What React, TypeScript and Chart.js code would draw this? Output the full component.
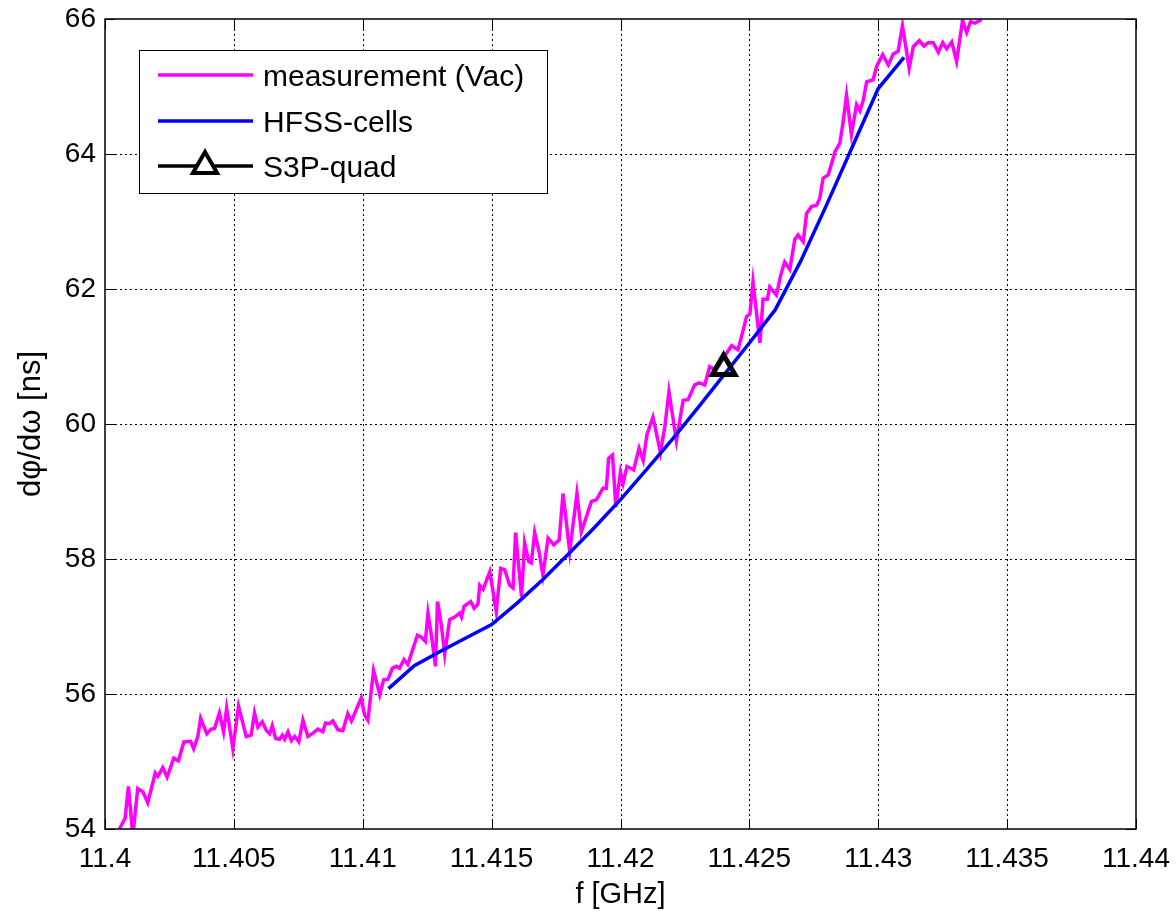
import React, { useEffect, useRef } from "react";
import { Chart, registerables } from "chart.js";

Chart.register(...registerables);

const measFreq = [
  11.40056, 11.40078, 11.40091, 11.40108, 11.40127, 11.40147, 11.40166, 11.40195, 11.40205, 11.40224,
  11.40241, 11.40267, 11.40285, 11.40306, 11.40332, 11.40344, 11.4036, 11.40371, 11.40395, 11.40412,
  11.40425, 11.40444, 11.4046, 11.40472, 11.40496, 11.40518, 11.40548, 11.40567, 11.4058, 11.40593,
  11.4061, 11.40626, 11.40639, 11.40649, 11.40662, 11.40677, 11.40688, 11.40697, 11.4071, 11.40723,
  11.40736, 11.40752, 11.40768, 11.40787, 11.40807, 11.40826, 11.40845, 11.40856, 11.40871, 11.40884,
  11.40904, 11.40923, 11.40942, 11.40956, 11.40972, 11.40994, 11.41007, 11.4102, 11.41042, 11.41066,
  11.41081, 11.41098, 11.41115, 11.4113, 11.41143, 11.4116, 11.41175, 11.41212, 11.41227, 11.41243,
  11.41253, 11.41269, 11.41282, 11.4129, 11.41305, 11.41318, 11.41337, 11.41357, 11.41376, 11.41383,
  11.41393, 11.41419, 11.41432, 11.41447, 11.41454, 11.41467, 11.41493, 11.41518, 11.41535, 11.41551,
  11.4157, 11.41583, 11.41593, 11.41616, 11.41628, 11.41644, 11.41654, 11.41667, 11.41683, 11.41699,
  11.41719, 11.41741, 11.41762, 11.41777, 11.41803, 11.41831, 11.41848, 11.41868, 11.41887, 11.41907,
  11.41932, 11.41945, 11.41954, 11.41969, 11.41982, 11.42, 11.4201, 11.42025, 11.42051, 11.42072,
  11.42088, 11.42103, 11.42126, 11.42155, 11.42172, 11.42188, 11.42217, 11.42243, 11.42262, 11.42288,
  11.42305, 11.42327, 11.42346, 11.4237, 11.42398, 11.42431, 11.42456, 11.42476, 11.42489, 11.42502,
  11.42514, 11.42541, 11.42553, 11.4257, 11.42579, 11.42605, 11.42622, 11.42637, 11.42657, 11.42676,
  11.42689, 11.42709, 11.42722, 11.42741, 11.42761, 11.42773, 11.42786, 11.42806, 11.42819, 11.42832,
  11.42851, 11.42864, 11.42877, 11.42896, 11.42916, 11.42929, 11.42942, 11.42955, 11.4298, 11.42994,
  11.43017, 11.43039, 11.43058, 11.43077, 11.43094, 11.4312, 11.43136, 11.43159, 11.43177, 11.43194,
  11.43213, 11.43233, 11.4325, 11.43265, 11.43285, 11.43304, 11.43327, 11.43343, 11.43358, 11.43375,
  11.43401,
];

const measVal = [
  54.0, 54.16, 54.63, 53.9, 54.6, 54.55, 54.39, 54.83, 54.78, 54.91,
  54.77, 55.05, 55.01, 55.29, 55.3, 55.19, 55.37, 55.64, 55.41, 55.48,
  55.49, 55.72, 55.44, 55.79, 55.19, 55.82, 55.37, 55.39, 55.72, 55.51,
  55.59, 55.46, 55.41, 55.53, 55.34, 55.33, 55.39, 55.33, 55.44, 55.31,
  55.37, 55.29, 55.61, 55.37, 55.42, 55.48, 55.44, 55.57, 55.56, 55.6,
  55.47, 55.46, 55.71, 55.6, 55.74, 55.94, 55.69, 55.61, 56.35, 55.99,
  56.21, 56.22, 56.38, 56.41, 56.38, 56.51, 56.44, 56.87, 56.84, 56.78,
  57.2, 56.8, 56.41, 57.37, 57.02, 56.59, 57.1, 57.14, 57.2, 57.14,
  57.3, 57.37, 57.27, 57.33, 57.61, 57.55, 57.81, 57.22, 57.86, 57.84,
  57.61, 57.57, 58.39, 57.44, 58.24, 57.96, 57.94, 58.39, 58.13, 57.76,
  58.31, 58.21, 58.28, 58.97, 58.11, 58.97, 58.4, 58.63, 58.85, 58.88,
  59.05, 59.05, 59.49, 59.54, 58.77, 59.29, 59.12, 59.37, 59.32, 59.64,
  59.46, 59.85, 60.1, 59.58, 59.96, 60.48, 59.75, 60.35, 60.36, 60.58,
  60.61, 60.58, 60.85, 60.8, 60.97, 61.16, 61.1, 61.39, 61.59, 61.63,
  62.11, 61.2, 61.85, 61.85, 62.03, 61.91, 62.21, 62.4, 62.29, 62.73,
  62.8, 62.7, 63.12, 63.22, 63.24, 63.34, 63.64, 63.69, 63.86, 64.03,
  64.16, 64.48, 64.87, 64.29, 64.73, 64.64, 64.8, 65.07, 65.1, 65.3,
  65.47, 65.32, 65.48, 65.52, 65.9, 65.27, 65.59, 65.68, 65.6, 65.65,
  65.65, 65.51, 65.65, 65.56, 65.66, 65.37, 65.98, 65.8, 65.96, 65.94,
  65.99,
];

const hfssFreq = [
  11.411, 11.412, 11.413, 11.414, 11.415, 11.416, 11.417, 11.418, 11.419, 11.42,
  11.421, 11.422, 11.423, 11.424, 11.425, 11.426, 11.427, 11.428, 11.429, 11.43, 11.431,
];
const hfssVal = [
  56.08, 56.42, 56.63, 56.83, 57.03, 57.35, 57.7, 58.08, 58.47, 58.88,
  59.32, 59.77, 60.24, 60.72, 61.2, 61.69, 62.42, 63.25, 64.11, 64.97, 65.43,
];

const s3pFreq = [11.424];
const s3pVal = [60.83];

const xTicks = [11.4, 11.405, 11.41, 11.415, 11.42, 11.425, 11.43, 11.435, 11.44];
const yTicks = [54, 56, 58, 60, 62, 64, 66];

const seriesNames = ["measurement (Vac)", "HFSS-cells", "S3P-quad"];
const seriesColors = ["#ff00ff", "#0000ff", "#000000"];

const xTitle = "f [GHz]";
const yTitle = "d\u03c6/d\u03c9 [ns]";

const FONT = "'Liberation Sans', Arial, Helvetica, sans-serif";

const framePlugin = {
  id: "matlabFrame",
  beforeDatasetsDraw(chart: any) {
    const { ctx, chartArea: a, scales } = chart;
    const xs = scales.x;
    const ys = scales.y;
    ctx.save();
    ctx.strokeStyle = "#000";
    ctx.lineWidth = 1;
    ctx.setLineDash([2, 3]);
    xTicks.forEach((v) => {
      const px = Math.round(xs.getPixelForValue(v)) + 0.5;
      if (px > a.left + 2 && px < a.right - 2) {
        ctx.beginPath();
        ctx.moveTo(px, a.top);
        ctx.lineTo(px, a.bottom);
        ctx.stroke();
      }
    });
    yTicks.forEach((v) => {
      const py = Math.round(ys.getPixelForValue(v)) + 0.5;
      if (py > a.top + 2 && py < a.bottom - 2) {
        ctx.beginPath();
        ctx.moveTo(a.left, py);
        ctx.lineTo(a.right, py);
        ctx.stroke();
      }
    });
    ctx.restore();
  },
  afterDatasetsDraw(chart: any) {
    const { ctx, chartArea: a, scales } = chart;
    const xs = scales.x;
    const ys = scales.y;
    ctx.save();
    ctx.setLineDash([]);
    ctx.strokeStyle = "#000";
    ctx.lineWidth = 1;
    const tl = 10;
    xTicks.forEach((v) => {
      const px = Math.round(xs.getPixelForValue(v)) + 0.5;
      ctx.beginPath();
      ctx.moveTo(px, a.bottom);
      ctx.lineTo(px, a.bottom - tl);
      ctx.moveTo(px, a.top);
      ctx.lineTo(px, a.top + tl);
      ctx.stroke();
    });
    yTicks.forEach((v) => {
      const py = Math.round(ys.getPixelForValue(v)) + 0.5;
      ctx.beginPath();
      ctx.moveTo(a.left, py);
      ctx.lineTo(a.left + tl, py);
      ctx.moveTo(a.right, py);
      ctx.lineTo(a.right - tl, py);
      ctx.stroke();
    });
    ctx.lineWidth = 1.5;
    ctx.strokeRect(a.left, a.top, a.right - a.left, a.bottom - a.top);

    // legend box
    const bx = a.left + 34;
    const by = a.top + 31;
    const bw = 408;
    const bh = 143;
    ctx.fillStyle = "#fff";
    ctx.fillRect(bx, by, bw, bh);
    ctx.lineWidth = 1;
    ctx.strokeStyle = "#000";
    ctx.strokeRect(bx + 0.5, by + 0.5, bw, bh);
    const rows = [25, 71, 116];
    ctx.font = `30px ${FONT}`;
    ctx.textBaseline = "alphabetic";
    ctx.textAlign = "left";
    seriesNames.forEach((name, i) => {
      const ry = by + rows[i];
      ctx.strokeStyle = seriesColors[i];
      ctx.lineWidth = 3.5;
      ctx.beginPath();
      ctx.moveTo(bx + 19, ry);
      ctx.lineTo(bx + 114, ry);
      ctx.stroke();
      if (i === 2) {
        const cx = bx + 66;
        const r = 14;
        ctx.fillStyle = "#fff";
        ctx.lineWidth = 4;
        ctx.beginPath();
        ctx.moveTo(cx, ry - r);
        ctx.lineTo(cx + 0.866 * r, ry + 0.5 * r);
        ctx.lineTo(cx - 0.866 * r, ry + 0.5 * r);
        ctx.closePath();
        ctx.fill();
        ctx.stroke();
      }
      ctx.fillStyle = "#000";
      ctx.fillText(name, bx + 124, ry + 11);
    });
    ctx.restore();
  },
};

export default function App() {
  const canvasRef = useRef<HTMLCanvasElement | null>(null);

  useEffect(() => {
    const canvas = canvasRef.current;
    if (!canvas) return;
    const meas = measFreq.map((f, i) => ({ x: f, y: measVal[i] }));
    const hfss = hfssFreq.map((f, i) => ({ x: f, y: hfssVal[i] }));
    const s3p = s3pFreq.map((f, i) => ({ x: f, y: s3pVal[i] }));

    const zeroPad = (s: any) => {
      s.paddingTop = 0;
      s.paddingBottom = 0;
      s.paddingLeft = 0;
      s.paddingRight = 0;
    };

    const chart = new Chart(canvas, {
      type: "line",
      data: {
        datasets: [
          {
            label: seriesNames[2],
            data: s3p,
            borderColor: seriesColors[2],
            backgroundColor: "rgba(0,0,0,0)",
            borderWidth: 3,
            pointStyle: "triangle",
            pointRadius: 13,
            pointBorderWidth: 5,
            pointBorderColor: "#000",
            pointBackgroundColor: "rgba(0,0,0,0)",
            order: 1,
          },
          {
            label: seriesNames[1],
            data: hfss,
            borderColor: seriesColors[1],
            borderWidth: 3.5,
            pointRadius: 0,
            tension: 0,
            order: 2,
          },
          {
            label: seriesNames[0],
            data: meas,
            borderColor: seriesColors[0],
            borderWidth: 3.5,
            pointRadius: 0,
            tension: 0,
            order: 3,
          },
        ],
      },
      options: {
        animation: false,
        responsive: false,
        devicePixelRatio: 1,
        layout: { padding: { left: 0, top: 19, right: 40, bottom: 0 } },
        plugins: {
          legend: { display: false },
          tooltip: { enabled: false },
        },
        scales: {
          x: {
            type: "linear",
            min: 11.4,
            max: 11.44,
            grid: { display: false, drawTicks: false },
            border: { display: false },
            afterBuildTicks: (s: any) => {
              s.ticks = xTicks.map((v) => ({ value: v }));
            },
            afterFit: (s: any) => {
              s.height = 85;
              zeroPad(s);
            },
            ticks: {
              autoSkip: false,
              maxRotation: 0,
              minRotation: 0,
              padding: 13,
              color: "#000",
              font: { family: FONT, size: 28 },
              callback: (v: any) => String(Number(Number(v).toFixed(3))),
            },
            title: {
              display: true,
              text: xTitle,
              color: "#000",
              font: { family: FONT, size: 29 },
              padding: { top: 0, bottom: 2 },
            },
          },
          y: {
            type: "linear",
            min: 54,
            max: 66,
            grid: { display: false, drawTicks: false },
            border: { display: false },
            afterBuildTicks: (s: any) => {
              s.ticks = yTicks.map((v) => ({ value: v }));
            },
            afterFit: (s: any) => {
              s.width = 105;
              zeroPad(s);
            },
            ticks: {
              autoSkip: false,
              padding: 9,
              color: "#000",
              font: { family: FONT, size: 28 },
              callback: (v: any) => String(v),
            },
            title: {
              display: true,
              text: yTitle,
              color: "#000",
              font: { family: FONT, size: 31 },
              padding: { top: 13, bottom: 0 },
            },
          },
        },
      },
      plugins: [framePlugin],
    });
    return () => chart.destroy();
  }, []);

  return (
    <div style={{ position: "absolute", left: 0, top: 0, width: 1176, height: 914, background: "#fff" }}>
      <canvas ref={canvasRef} width={1176} height={914} style={{ display: "block" }} />
    </div>
  );
}
